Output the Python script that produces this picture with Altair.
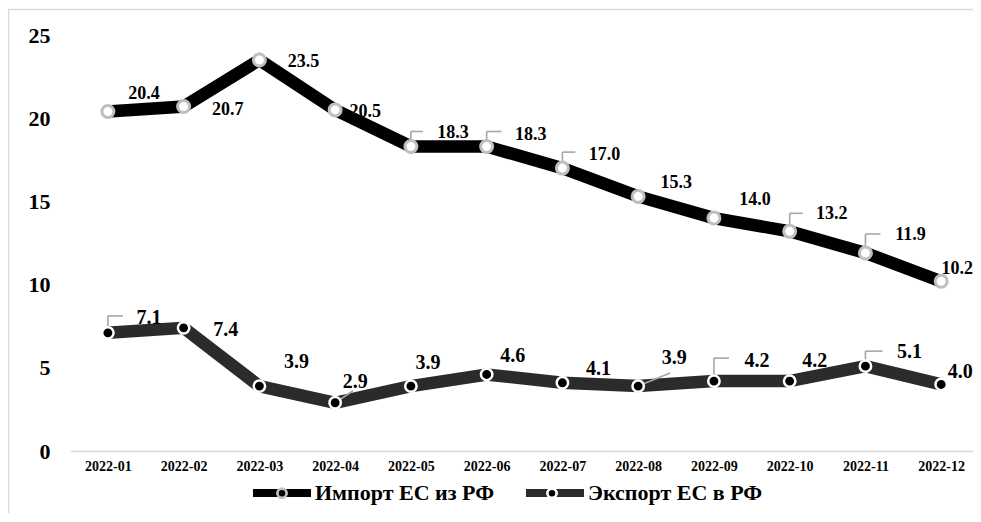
import json
import altair as alt
import pandas as pd

# ---------------- data ----------------
months = ["2022-01", "2022-02", "2022-03", "2022-04", "2022-05", "2022-06",
          "2022-07", "2022-08", "2022-09", "2022-10", "2022-11", "2022-12"]
import_vals = [20.4, 20.7, 23.5, 20.5, 18.3, 18.3, 17.0, 15.3, 14.0, 13.2, 11.9, 10.2]
export_vals = [7.1, 7.4, 3.9, 2.9, 3.9, 4.6, 4.1, 3.9, 4.2, 4.2, 5.1, 4.0]
series_names = ["Импорт ЕС из РФ", "Экспорт ЕС в РФ"]
y_ticks = [0, 5, 10, 15, 20, 25]

# ---------------- style: label placement (pixels from the point) ----------------
import_label_dx = [36, 44, 44, 30, 42, 44, 42, 38, 41, 42, 45, 16]
import_label_dy = [-19, 2, 1, 1, -15, -13, -14, -14, -19, -18, -19, -13]
export_label_dx = [41, 42, 37, 20, 17, 26, 36, 36, 43, 25, 44, 19]
export_label_dy = [-16, 1, -25, -22, -24, -19, -15, -29, -21, -21, -15, -13]
# callouts: elbow (height px, width px) or diag (dx px, dy px up)
import_callouts = {4: ("elbow", 15, 12), 5: ("elbow", 15, 15), 6: ("elbow", 16, 13),
                   9: ("elbow", 18, 13), 10: ("elbow", 19, 15)}
export_callouts = {0: ("elbow", 17, 15), 3: ("diag", 18, 12), 7: ("diag", 32, 13),
                   8: ("elbow", 23, 15), 10: ("elbow", 15, 17)}

X_MIN, X_MAX = -0.5, 11.42
W, H = 903, 416
PX_X = W / (X_MAX - X_MIN)
PX_Y = H / 25.0
FONT = "Liberation Serif"
IMP_FS, EXP_FS = 18, 20

rows, segs = [], []
for name, vals, ldx, ldy, fs, callouts in [
    (series_names[0], import_vals, import_label_dx, import_label_dy, IMP_FS, import_callouts),
    (series_names[1], export_vals, export_label_dx, export_label_dy, EXP_FS, export_callouts),
]:
    for i, v in enumerate(vals):
        base_px = ldy[i] + 0.338 * fs
        rows.append(dict(idx=i, value=v, series=name, series_p=name,
                         lx=i + ldx[i] / PX_X, ly=v - base_px / PX_Y,
                         text=f"{v:.1f}"))
    for i, (kind, a, b) in callouts.items():
        v = vals[i]
        if kind == "elbow":
            top = v + a / PX_Y
            segs.append(dict(sx=i, sy=v, sx2=i, sy2=top))
            segs.append(dict(sx=i, sy=top, sx2=i + b / PX_X, sy2=top))
        else:
            segs.append(dict(sx=i, sy=v, sx2=i + a / PX_X, sy2=v + b / PX_Y))

df = pd.DataFrame(rows)
seg_df = pd.DataFrame(segs)

xscale = alt.Scale(domain=[X_MIN, X_MAX], nice=False, zero=False)
yscale = alt.Scale(domain=[0, 25], nice=False)

x_axis = alt.Axis(values=list(range(12)), labelExpr=json.dumps(months) + "[datum.value]",
                  title=None, grid=False, ticks=False, domainColor="#d9d9d9", domainWidth=1.5,
                  labelFont=FONT, labelFontWeight="bold", labelFontSize=14, labelColor="black",
                  labelPadding=8, labelFlush=False, labelOverlap=False, zindex=1)
y_axis = alt.Axis(values=y_ticks, title=None, grid=False, ticks=False, domain=False,
                  labelFont=FONT, labelFontWeight="bold", labelFontSize=22, labelColor="black",
                  labelPadding=20, zindex=1)


def X(field):
    return alt.X(field, scale=xscale, axis=x_axis, title=None)


def Y(field):
    return alt.Y(field, scale=yscale, axis=y_axis, title=None)


LX, LY = 179, 425
LEG_FS = 22
COLPAD = 15
legA = alt.Legend(orient="none", legendX=LX, legendY=LY, direction="horizontal", title=None,
                  symbolType="stroke", symbolSize=3364, symbolStrokeWidth=8, symbolOpacity=1,
                  labelFont=FONT, labelFontWeight="bold", labelFontSize=LEG_FS, labelColor="black",
                  labelOffset=0, columnPadding=COLPAD, padding=0, labelLimit=400)
circ = "M -0.155,0 A 0.155,0.155 0 1,0 0.155,0 A 0.155,0.155 0 1,0 -0.155,0 Z"
legB = alt.Legend(orient="none", legendX=LX, legendY=LY + 2.5, direction="horizontal", title=None,
                  symbolType=circ, symbolSize=3364, symbolStrokeWidth=2.5, symbolOffset=2.5,
                  symbolOpacity=1, labelOpacity=0,
                  labelFont=FONT, labelFontWeight="bold", labelFontSize=LEG_FS,
                  labelOffset=5, columnPadding=COLPAD + 7, padding=0, labelLimit=400)

base = alt.Chart(df)

lines = base.mark_line(strokeWidth=12.5, strokeJoin="miter").encode(
    x=X("idx:Q"), y=Y("value:Q"),
    color=alt.Color("series:N", scale=alt.Scale(domain=series_names, range=["#000000", "#2b2b2b"]),
                    legend=legA),
)

leaders = alt.Chart(seg_df).mark_rule(color="#a6a6a6", strokeWidth=1.6).encode(
    x=X("sx:Q"), y=Y("sy:Q"), x2="sx2:Q", y2="sy2:Q",
)

fill_enc = alt.Fill("series_p:N", sort=series_names,
                    scale=alt.Scale(range=["#ffffff", "#000000"]), legend=legB)
stroke_enc = alt.Stroke("series_p:N", sort=series_names,
                        scale=alt.Scale(range=["#bfbfbf", "#ffffff"]), legend=legB)

pts_imp = base.transform_filter(alt.datum.series == series_names[0]).mark_point(
    filled=True, shape="circle", size=144, strokeWidth=3, opacity=1).encode(
    x=X("idx:Q"), y=Y("value:Q"), fill=fill_enc, stroke=stroke_enc,
)
pts_exp = base.transform_filter(alt.datum.series == series_names[1]).mark_point(
    filled=True, shape="circle", size=130, strokeWidth=2.5, opacity=1).encode(
    x=X("idx:Q"), y=Y("value:Q"), fill=fill_enc, stroke=stroke_enc,
)

txt_imp = base.transform_filter(alt.datum.series == series_names[0]).mark_text(
    font=FONT, fontWeight="bold", fontSize=IMP_FS, color="black", align="center",
    baseline="alphabetic").encode(
    x=X("lx:Q"), y=Y("ly:Q"), text="text:N",
)
txt_exp = base.transform_filter(alt.datum.series == series_names[1]).mark_text(
    font=FONT, fontWeight="bold", fontSize=EXP_FS, color="black", align="center",
    baseline="alphabetic").encode(
    x=X("lx:Q"), y=Y("ly:Q"), text="text:N",
)

frame = alt.Chart(pd.DataFrame({"f": [0]})).mark_rect(
    filled=False, fillOpacity=0, stroke="#d9d9d9", strokeWidth=1.5).encode(
    x=alt.value(-61.5), x2=alt.value(W + 40), y=alt.value(-25.5), y2=alt.value(H + 200),
)

chart = alt.layer(lines, leaders, pts_imp, pts_exp, txt_imp, txt_exp, frame).properties(
    width=W, height=H,
    padding={"left": 62, "top": 27, "right": 0, "bottom": 62},
    autosize=alt.AutoSizeParams(type="none"),
    background="white",
).resolve_legend(color="independent", fill="independent", stroke="independent"
).configure_view(stroke=None)

chart.save("out.html", embed_options={"renderer": "svg", "actions": False})
